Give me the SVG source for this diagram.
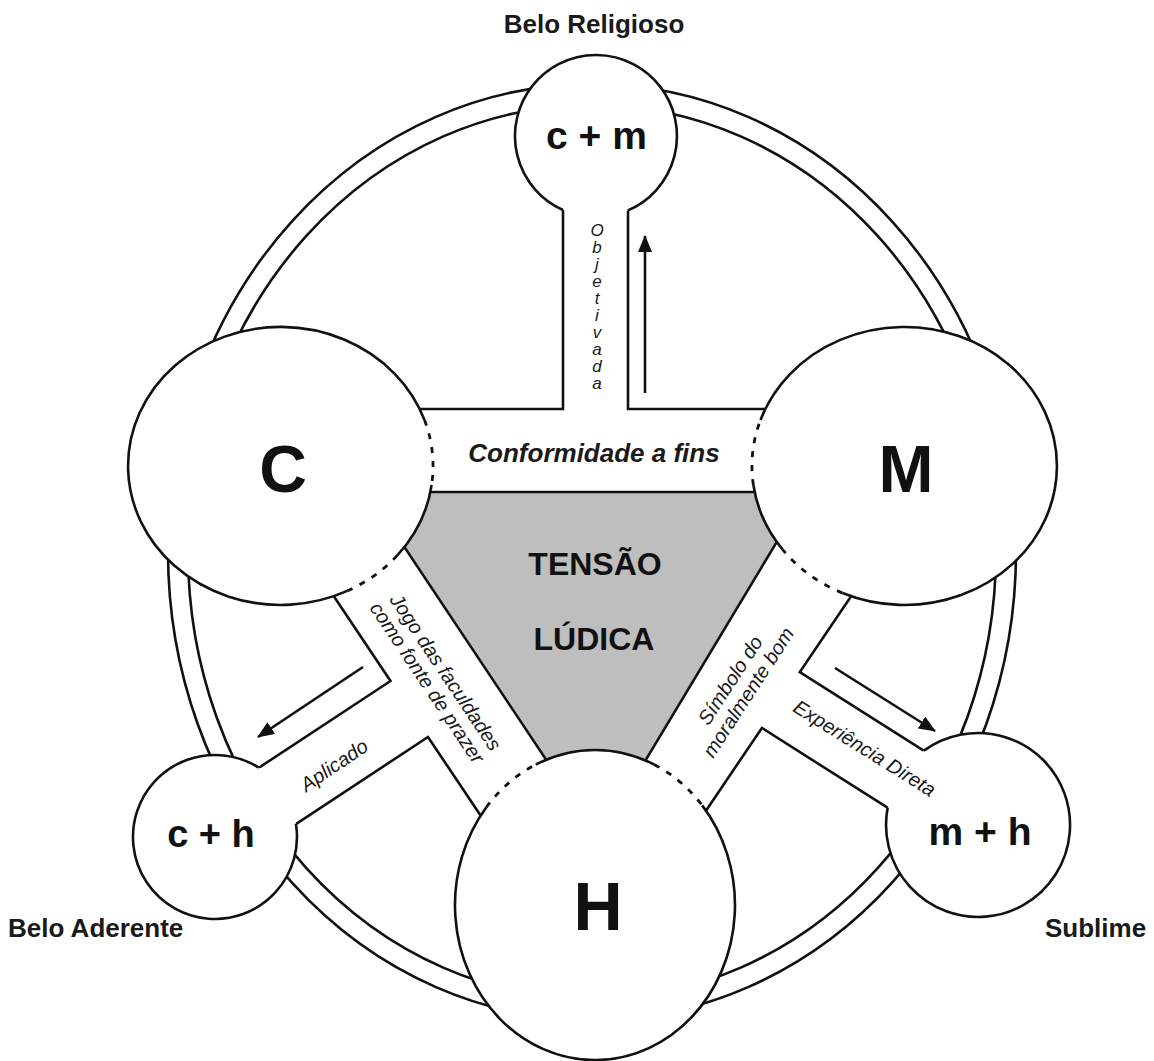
<svg xmlns="http://www.w3.org/2000/svg" width="1154" height="1061" viewBox="0 0 1154 1061">
<style>
.ln{fill:none;stroke:#111;stroke-width:2.6;stroke-linejoin:miter}
.dot{fill:none;stroke:#111;stroke-width:2.8;stroke-dasharray:6 8}
.wf{fill:#fff;stroke:none}
.lbl{font-family:"Liberation Sans",Arial,sans-serif;font-weight:bold;font-size:26px;fill:#1a1a1a}
.big{font-family:"Liberation Sans",Arial,sans-serif;font-weight:bold;fill:#111;text-anchor:middle}
.it{font-family:"Liberation Sans",Arial,sans-serif;font-style:italic;font-size:20px;fill:#1a1a1a;text-anchor:middle}
.arr{fill:none;stroke:#111;stroke-width:2.6;marker-end:url(#ah)}
</style>
<defs>
<marker id="ah" markerUnits="userSpaceOnUse" markerWidth="18" markerHeight="14" refX="16" refY="7" orient="auto">
<path d="M0,0 L17,7 L0,14 z" fill="#111"/>
</marker>
</defs>
<rect width="1154" height="1061" fill="#fff"/>

<g id="ring">
<ellipse cx="592" cy="552" rx="424" ry="468" class="ln"/>
<ellipse cx="592" cy="552" rx="404" ry="447" class="ln"/>
</g>

<g id="tensao-ludica">
<polygon points="367.7,492 806.8,492 598.6,838.4" fill="#bebebe" stroke="#111" stroke-width="2.6"/>
</g>

<g id="connectors">
<path class="ln" d="M410,409 H563 V200"/>
<path class="ln" d="M628,200 V409 H775"/>
<path class="ln" d="M326.3,585 L390.5,681 L252.7,771.8"/>
<path class="ln" d="M290.2,827.8 L428,737 L485.6,823"/>
<path class="ln" d="M856.7,588.1 L799.8,672 L930.8,755.1"/>
<path class="ln" d="M895.4,812.7 L761.9,728 L699.7,819.9"/>
<path class="arr" d="M645,393 V236"/>
<path class="arr" d="M363,667 L258,737"/>
<path class="arr" d="M835,668 L935,731"/>
</g>

<g id="node-C">
<ellipse cx="280.5" cy="466" rx="152.5" ry="139" class="wf"/>
<path class="ln" d="M431.6,485 A152.5,139 0 0 1 397.3,555.4"/>
<path class="ln" d="M347.3,590.9 A152.5,139 0 1 1 424.5,420"/>
<path class="dot" d="M424.5,420 A152.5,139 0 0 1 431.6,485"/>
<path class="dot" d="M397.3,555.4 A152.5,139 0 0 1 347.3,590.9"/>
<text x="283" y="492" class="big" font-size="66">C</text>
</g>

<g id="node-M">
<ellipse cx="904.5" cy="466" rx="152.5" ry="139" class="wf"/>
<path class="ln" d="M760.5,420 A152.5,139 0 1 1 842.5,593"/>
<path class="ln" d="M782.7,549.7 A152.5,139 0 0 1 753.4,485"/>
<path class="dot" d="M753.4,485 A152.5,139 0 0 1 760.5,420"/>
<path class="dot" d="M842.5,593 A152.5,139 0 0 1 782.7,549.7"/>
<text x="906" y="492" class="big" font-size="66">M</text>
</g>

<g id="node-H">
<ellipse cx="595" cy="905" rx="140" ry="155" class="wf"/>
<path class="ln" d="M535.8,764.5 A140,155 0 0 1 654.2,764.5"/>
<path class="ln" d="M702.2,805.4 A140,155 0 1 1 486.2,807.5"/>
<path class="dot" d="M486.2,807.5 A140,155 0 0 1 535.8,764.5"/>
<path class="dot" d="M654.2,764.5 A140,155 0 0 1 702.2,805.4"/>
<text x="598" y="930" class="big" font-size="68">H</text>
</g>

<g id="node-cm">
<circle cx="596" cy="136" r="81" class="wf"/>
<path class="ln" d="M628,210.4 A81,81 0 1 0 563,210"/>
<text x="596.5" y="149" class="big" font-size="39">c + m</text>
</g>

<g id="node-ch">
<circle cx="215" cy="837" r="82" class="wf"/>
<path class="ln" d="M295.9,823.7 A82,82 0 1 1 258.7,767.6"/>
<text x="211" y="847" class="big" font-size="38">c + h</text>
</g>

<g id="node-mh">
<circle cx="978" cy="825" r="92" class="wf"/>
<path class="ln" d="M923.9,750.6 A92,92 0 1 1 887.7,807.6"/>
<text x="980" y="845" class="big" font-size="39">m + h</text>
</g>

<g id="labels">
<text x="594" y="33" class="lbl" text-anchor="middle">Belo Religioso</text>
<text x="8" y="937" class="lbl">Belo Aderente</text>
<text x="1045" y="937" class="lbl">Sublime</text>
<text x="595" y="575" class="big" font-size="32" fill="#1a1a1a">TENSÃO</text>
<text x="594" y="650" class="big" font-size="32" fill="#1a1a1a">LÚDICA</text>
<text x="594" y="462" class="it" style="font-size:26px;font-weight:bold">Conformidade a fins</text>
<text x="597" y="221" class="it" style="font-size:17px;writing-mode:vertical-rl;text-orientation:upright;text-anchor:start;letter-spacing:-2px">Objetivada</text>
<text class="it" transform="translate(440,676) rotate(56.3)">Jogo das faculdades</text>
<text class="it" transform="translate(421.5,686.5) rotate(56.3)">como fonte de prazer</text>
<text class="it" transform="translate(338,771) rotate(-34)">Aplicado</text>
<text class="it" transform="translate(736,684) rotate(-57)">Símbolo do</text>
<text class="it" transform="translate(754,696) rotate(-57)">moralmente bom</text>
<text class="it" transform="translate(861,754) rotate(32)">Experiência Direta</text>
</g>
</svg>
